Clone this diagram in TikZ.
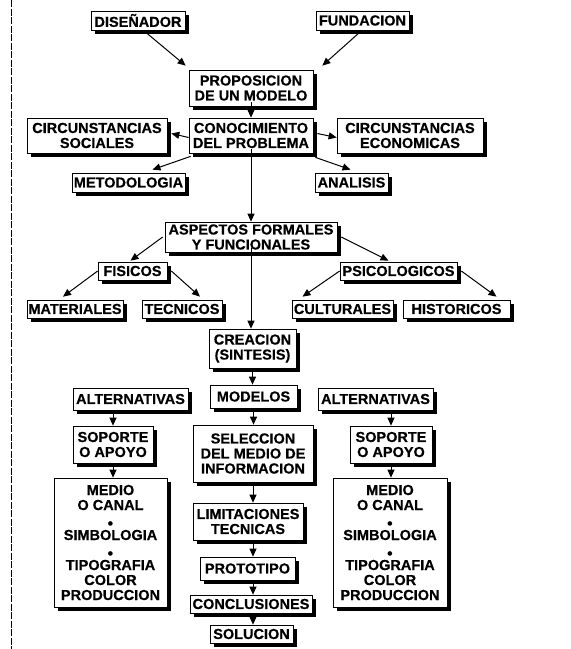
\documentclass[tikz,border=0pt]{standalone}
\usepackage{fontspec}
\setmainfont{Liberation Sans}[BoldFeatures={FakeBold=0.4}]
\newfontfamily\djv{DejaVu Sans}
\usetikzlibrary{arrows.meta,shadows}
\newcommand{\bul}{{\djv\fontsize{6}{15}\selectfont ●}}
\begin{document}
\begin{tikzpicture}[x=1pt,y=-1pt,
  bx/.style={draw=black, line width=0.7pt, fill=white, inner sep=0pt, align=center,
    font=\fontsize{14.5}{15}\selectfont\bfseries,
    drop shadow={shadow xshift=4pt, shadow yshift=-4pt, fill=black, opacity=1}},
  arr/.style={-{Triangle[length=8pt,width=7pt]}, line width=1pt},
  rule/.style={line width=0.8pt, dash pattern=on 7pt off 1.5pt}]
\useasboundingbox (0,0) rectangle (571,649);
\coordinate (lt) at (11,0);
\coordinate (lb) at (11,649);
\draw[rule] (lt) -- (lb);

\node[bx, minimum width=94, minimum height=19] (dis) at (138,20.5) {DISEÑADOR};
\node[bx, minimum width=93, minimum height=19] (fun) at (362.5,20.5) {FUNDACION};
\node[bx, minimum width=124, minimum height=36] (prop) at (251,88) {PROPOSICION\\DE UN MODELO};
\node[bx, minimum width=124, minimum height=35] (con) at (251,135.5) {CONOCIMIENTO\\DEL PROBLEMA};
\node[bx, minimum width=140, minimum height=35] (soc) at (97,135.5) {CIRCUNSTANCIAS\\SOCIALES};
\node[bx, minimum width=146, minimum height=35] (eco) at (410,135.5) {CIRCUNSTANCIAS\\ECONOMICAS};
\node[bx, minimum width=113, minimum height=19] (met) at (128.5,182.5) {METODOLOGIA};
\node[bx, minimum width=73, minimum height=19] (ana) at (351.5,182.5) {ANALISIS};
\node[bx, minimum width=172, minimum height=30] (asp) at (251,237) {ASPECTOS FORMALES\\Y FUNCIONALES};
\node[bx, minimum width=69, minimum height=18] (fis) at (132.5,271) {FISICOS};
\node[bx, minimum width=117, minimum height=18] (psi) at (398.5,271) {PSICOLOGICOS};
\node[bx, minimum width=96, minimum height=18] (mat) at (75,309) {MATERIALES};
\node[bx, minimum width=80, minimum height=18] (tec) at (182,309) {TECNICOS};
\node[bx, minimum width=101, minimum height=18] (cul) at (342.5,309) {CULTURALES};
\node[bx, minimum width=107, minimum height=18] (his) at (456.5,309) {HISTORICOS};
\node[bx, minimum width=87, minimum height=39] (cre) at (252.5,348.5) {CREACION\\(SINTESIS)};
\node[bx, minimum width=87, minimum height=23] (mod) at (253.5,396.5) {MODELOS};
\node[bx, minimum width=115, minimum height=22] (altL) at (130.5,399) {ALTERNATIVAS};
\node[bx, minimum width=115, minimum height=22] (altR) at (375.5,399) {ALTERNATIVAS};
\node[bx, minimum width=120, minimum height=57] (sel) at (253,453.5) {SELECCION\\DEL MEDIO DE\\INFORMACION};
\node[bx, minimum width=80, minimum height=37] (sopL) at (113,444.5) {SOPORTE\\O APOYO};
\node[bx, minimum width=82, minimum height=37] (sopR) at (391,444.5) {SOPORTE\\O APOYO};
\node[bx, minimum width=113, minimum height=129] (medL) at (110.5,542.5) {MEDIO\\O CANAL\\\bul\\SIMBOLOGIA\\\bul\\TIPOGRAFIA\\COLOR\\PRODUCCION};
\node[bx, minimum width=114, minimum height=129] (medR) at (390,542.5) {MEDIO\\O CANAL\\\bul\\SIMBOLOGIA\\\bul\\TIPOGRAFIA\\COLOR\\PRODUCCION};
\node[bx, minimum width=110, minimum height=37] (lim) at (248,521.5) {LIMITACIONES\\TECNICAS};
\node[bx, minimum width=95, minimum height=23] (pro) at (247.5,568.5) {PROTOTIPO};
\node[bx, minimum width=122, minimum height=18] (conc) at (251,604) {CONCLUSIONES};
\node[bx, minimum width=83, minimum height=18] (sol) at (251.5,634) {SOLUCION};

\draw[arr] ([shift={(9,3)}]dis.south) -- ([shift={(-3,-4)}]prop.north west);
\draw[arr] ([shift={(-4,3)}]fun.south) -- ([shift={(9,-4)}]prop.north east);
\draw[arr] ([yshift=4]prop.south) -- (con.north);
\draw[arr] ([yshift=-2]con.west) -- ([shift={(4,-2)}]soc.east);
\draw[arr] ([shift={(4,-2)}]con.east) -- ([yshift=-2]eco.west);
\draw[arr] ([shift={(2,3)}]con.south west) -- ([shift={(24,-3)}]met.north);
\draw[arr] ([shift={(2,4)}]con.south east) -- ([shift={(-1,-3)}]ana.north);
\draw[arr] ([yshift=4]con.south) -- (asp.north);
\draw[arr] ([xshift=-2]asp.west) -- ([shift={(-2,-1)}]fis.north);
\draw[arr] ([xshift=4]asp.east) -- ([shift={(-10,-1)}]psi.north);
\draw[arr] (fis.west) -- ([shift={(-12,-3)}]mat.north);
\draw[arr] ([xshift=4]fis.east) -- ([shift={(18,-3)}]tec.north);
\draw[arr] (psi.west) -- ([shift={(-40,-3)}]cul.north);
\draw[arr] ([xshift=4]psi.east) -- ([shift={(40,-3)}]his.north);
\draw[arr] ([yshift=4]asp.south) -- (asp.south |- cre.north);
\draw[arr] (cre.south) -- (cre.south |- mod.north);
\draw[arr] (sopL.north |- altL.south) -- (sopL.north);
\draw[arr] (sopR.north |- altR.south) -- (sopR.north);
\draw[arr] (sopL.south) -- (sopL.south |- medL.north);
\draw[arr] (sopR.south) -- (sopR.south |- medR.north);
\draw[arr] (mod.south) -- (mod.south |- sel.north);
\draw[arr] (sel.south) -- (sel.south |- lim.north);
\draw[arr] (lim.south -| sel.south) -- (pro.north -| sel.south);
\draw[arr] (pro.south -| sel.south) -- (conc.north -| sel.south);
\draw[arr] (conc.south -| sel.south) -- (sol.north -| sel.south);
\end{tikzpicture}
\end{document}
